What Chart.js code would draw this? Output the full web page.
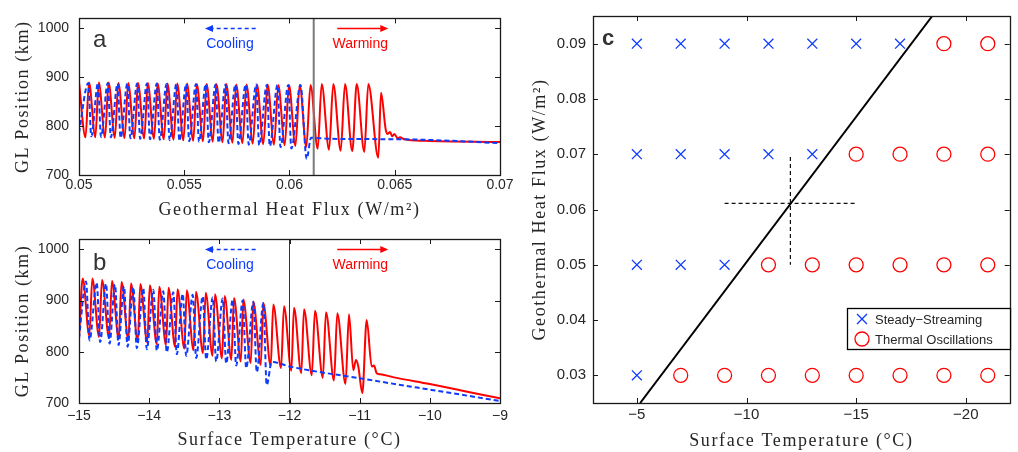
<!DOCTYPE html>
<html><head><meta charset="utf-8">
<script src="https://cdn.jsdelivr.net/npm/chart.js@4.4.1/dist/chart.umd.min.js"></script>
<style>
html,body{margin:0;padding:0;background:#fff;}
body{width:1018px;height:452px;position:relative;overflow:hidden;}
canvas{position:absolute;display:block;}
#ca{left:0;top:0;}
#cb{left:0;top:220px;}
#cc{left:520px;top:0;}
</style></head><body>
<canvas id="ca" width="520" height="222"></canvas>
<canvas id="cb" width="520" height="232"></canvas>
<canvas id="cc" width="498" height="452"></canvas>
<script>
// ---------------- Panel a : GL position vs geothermal heat flux ----------------
const aWarmFlux = [0.05,
 0.050309,0.050475, 0.050774,0.050941, 0.051235,0.051406, 0.051701,0.051872, 0.052166,0.052337,
 0.052632,0.052803, 0.053097,0.053268, 0.053563,0.053734, 0.054029,0.054200, 0.054494,0.054665,
 0.054960,0.055131, 0.055425,0.055596, 0.055891,0.056062, 0.056356,0.056527, 0.056822,0.056998,
 0.057292,0.057468, 0.057767,0.057957, 0.058257,0.058456, 0.058755,0.058960, 0.059264,0.059468,
 0.059772,0.059976, 0.060280,0.060485, 0.060798,0.060998, 0.061340,0.061530, 0.061877,0.062081,
 0.062432,0.062637, 0.062983,0.063192, 0.063554,0.063744, 0.064219,0.064347,
 0.064570,0.064665,0.064774,0.064884,0.064979,0.065140,0.065249,0.065454,0.066437,0.07];
const aWarmGL = [890,
 777,889, 777,889, 776.5,889, 776,888, 775.5,888,
 775,888, 774.5,888, 774,887, 773,887, 772,887,
 771,887, 770,886, 769,886, 768,886, 767,886,
 766,885, 765,885, 764,885, 763,885, 762,884,
 761,884, 759.5,884, 757,884, 753.5,886, 751.5,886,
 749.5,886, 748.5,886, 747,886, 735.5,868,
 793,784,788,779,784,775,777,773,770,767.5];
const aCoolFlux = [0.05,
 0.050442,0.050584, 0.050903,0.051045, 0.051368,0.051511, 0.051834,0.051976, 0.052299,0.052442,
 0.052765,0.052907, 0.053230,0.053373, 0.053696,0.053838, 0.054162,0.054304, 0.054627,0.054770,
 0.055093,0.055235, 0.055558,0.055701, 0.056024,0.056166, 0.056489,0.056632, 0.056960,0.057102,
 0.057430,0.057572, 0.057919,0.058062, 0.058418,0.058561, 0.058922,0.059064, 0.059430,0.059572,
 0.059943,0.060086,
 0.060523,0.060817,0.061021,0.061924,0.065249,0.067625,0.07];
const aCoolGL = [786,
 888,779, 888,778, 888,777, 887,776, 887,775,
 887,774, 887,773, 887,772, 886,771, 886,770,
 886,769, 886,768, 886,767, 885,766, 885,765,
 885,763.5, 885,762, 885,761, 884,759, 884,757,
 884,754,
 884,733,776,774,773,770,765];
const aXTicks = [0.05, 0.055, 0.06, 0.065, 0.07];
const aXTickLabels = ['0.05', '0.055', '0.06', '0.065', '0.07'];
const glTicks = [700, 800, 900, 1000];
const glTickLabels = ['700', '800', '900', '1000'];
const aThresholdFlux = 0.06115;

// ---------------- Panel b : GL position vs surface temperature ----------------
const bWarmTemp = [-15,
 -14.947,-14.853, -14.810,-14.715, -14.672,-14.572, -14.530,-14.434, -14.394,-14.297,
 -14.259,-14.163, -14.126,-14.027, -13.991,-13.891, -13.856,-13.760, -13.724,-13.632,
 -13.596,-13.499, -13.464,-13.368, -13.333,-13.233, -13.194,-13.097, -13.062,-12.962,
 -12.924,-12.829, -12.791,-12.694, -12.658,-12.553, -12.516,-12.410, -12.373,-12.268,
 -12.231,-12.121, -12.078,-11.974, -11.936,-11.832, -11.793,-11.682, -11.637,-11.525,
 -11.480,-11.366, -11.319,-11.202, -11.152,
 -11.091,-11.052,-11.019,-10.962,-10.900,-10.828,-10.796,-10.757,-10.71,-10.472,-10.0,-9.5,-9.0];
const bWarmGL = [826,
 943,831, 943,829, 940,827, 938,825, 936,823,
 933,820, 932,818, 930,815, 927,813, 925,810,
 922,806, 920,803, 917,797, 915,792, 912,787,
 909,784, 905,781, 902,778, 898,774, 895,772,
 892,768, 889,763, 886,758, 883,754, 880,749,
 877,744, 875,737, 873,
 764,784,771,719,862,771,773,758,756,749,737,723,709];
const bCoolTemp = [-15,
 -14.900,-14.850, -14.748,-14.698, -14.615,-14.565, -14.487,-14.437, -14.359,-14.309,
 -14.226,-14.176, -14.084,-14.034, -13.941,-13.891, -13.799,-13.749, -13.656,-13.606,
 -13.522,-13.472, -13.380,-13.330, -13.237,-13.187, -13.094,-13.045, -12.952,-12.902,
 -12.809,-12.760, -12.667,-12.617, -12.516,-12.466,
 -12.373,-12.325,-12.254,-11.993,-10.900,-9.950,-9.0];
const bCoolGL = [826,
 937,822, 935,819, 933,816, 931,813, 928,810,
 926,807, 924,805, 921,802, 918,799, 916,795,
 913,792, 911,788, 908,785, 906,781, 904,777,
 902,773, 900,768, 897,760,
 895,735,780,771,746,725,704];
const bXTicks = [-15, -14, -13, -12, -11, -10, -9];
const bXTickLabels = ['\u221215', '\u221214', '\u221213', '\u221212', '\u221211', '\u221210', '\u22129'];
const bThresholdTemp = -12;

// ---------------- Panel c : regime diagram ----------------
const cTemps = [-5, -7, -9, -11, -13, -15, -17, -19, -21];
const cFluxRows = [0.09, 0.07, 0.05, 0.03];
const cRegime = ['SSSSSSSOO', 'SSSSSOOOO', 'SSSOOOOOO', 'SOOOOOOOO']; // S = steady, O = oscillating
const cBoundaryT = [-5.15, -18.47];
const cBoundaryF = [0.025, 0.095];
const cCrossHT = [-9, -15], cCrossHF = [0.0611, 0.0611];
const cCrossVT = [-12, -12], cCrossVF = [0.0695, 0.05];
const cXTicks = [-5, -10, -15, -20];
const cXTickLabels = ['\u22125', '\u221210', '\u221215', '\u221220'];
const cYTicks = [0.03, 0.04, 0.05, 0.06, 0.07, 0.08, 0.09];
const cYTickLabels = ['0.03', '0.04', '0.05', '0.06', '0.07', '0.08', '0.09'];

// ---------------- styling ----------------
const RED = '#ff0000';
const BLUE = '#0d3bff';
const INK = '#262626';
const SANS = "'Liberation Sans', Arial, Helvetica, sans-serif";
const SERIF = "'Liberation Serif', 'Times New Roman', serif";
const TITLE_SPACING = '1.6px';

const pts = (xs, ys) => xs.map((x, i) => ({x: x, y: ys[i]}));

// MATLAB-like frame: box + inward ticks on all four sides
const matlabFrame = {
  id: 'matlabFrame',
  afterDraw(chart) {
    const {ctx, chartArea: a} = chart;
    const L = 5;
    const xs = chart.scales.x, ys = chart.scales.y;
    ctx.save();
    ctx.strokeStyle = '#1a1a1a';
    ctx.lineWidth = 1;
    ctx.beginPath();
    xs.ticks.forEach(t => {
      const p = Math.round(xs.getPixelForValue(t.value)) + 0.5;
      ctx.moveTo(p, a.bottom); ctx.lineTo(p, a.bottom - L);
      ctx.moveTo(p, a.top); ctx.lineTo(p, a.top + L);
    });
    ys.ticks.forEach(t => {
      const p = Math.round(ys.getPixelForValue(t.value)) + 0.5;
      ctx.moveTo(a.left, p); ctx.lineTo(a.left + L, p);
      ctx.moveTo(a.right, p); ctx.lineTo(a.right - L, p);
    });
    ctx.stroke();
    ctx.lineWidth = 1.3;
    ctx.strokeRect(Math.round(a.left) + 0.5, Math.round(a.top) + 0.5,
                   Math.round(a.right - a.left), Math.round(a.bottom - a.top));
    ctx.restore();
  }
};

// letter-spaced axis titles (approximating the LaTeX look)
const spacedTitles = {
  id: 'spacedTitles',
  beforeDraw(chart) {
    Object.values(chart.scales).forEach(s => {
      if (s._spacedWrapped) return;
      const orig = s.drawTitle;
      s.drawTitle = function () {
        const c = this.ctx; c.save(); c.letterSpacing = TITLE_SPACING;
        orig.apply(this, arguments); c.restore();
      };
      s._spacedWrapped = true;
    });
  }
};

// annotations: threshold line, arrows, direction texts, panel letter
const panelNotes = {
  id: 'panelNotes',
  afterDatasetsDraw(chart, args, o) {
    if (!o || !o.items) return;
    const {ctx, chartArea: a} = chart;
    const xs = chart.scales.x, ys = chart.scales.y;
    ctx.save();
    o.items.forEach(it => {
      if (it.type === 'vline') {
        const p = xs.getPixelForValue(it.x);
        ctx.strokeStyle = it.color; ctx.lineWidth = it.width; ctx.setLineDash([]);
        ctx.beginPath(); ctx.moveTo(p, a.top); ctx.lineTo(p, a.bottom); ctx.stroke();
      } else if (it.type === 'arrow') {
        const x1 = xs.getPixelForValue(it.x1), x2 = xs.getPixelForValue(it.x2);
        const y = Math.round(ys.getPixelForValue(it.y)) + 0.5;
        const dir = Math.sign(x2 - x1);
        ctx.strokeStyle = it.color; ctx.fillStyle = it.color; ctx.lineWidth = 1.5;
        ctx.setLineDash(it.dash || []);
        ctx.beginPath(); ctx.moveTo(x1, y); ctx.lineTo(x2 - dir * 5, y); ctx.stroke();
        ctx.setLineDash([]);
        ctx.beginPath(); ctx.moveTo(x2, y); ctx.lineTo(x2 - dir * 8, y - 3.5); ctx.lineTo(x2 - dir * 8, y + 3.5);
        ctx.closePath(); ctx.fill();
      } else if (it.type === 'text') {
        ctx.fillStyle = it.color; ctx.font = it.font;
        ctx.textAlign = 'center'; ctx.textBaseline = 'alphabetic';
        ctx.fillText(it.text, xs.getPixelForValue(it.x), ys.getPixelForValue(it.y));
      } else if (it.type === 'letter') {
        ctx.fillStyle = it.color; ctx.font = it.font;
        ctx.textAlign = 'left'; ctx.textBaseline = 'alphabetic';
        ctx.fillText(it.text, a.left + it.dx, a.top + it.dy);
      }
    });
    ctx.restore();
  }
};

// boxed legend inside panel c
const boxLegend = {
  id: 'boxLegend',
  afterDraw(chart, args, o) {
    if (!o || !o.box) return;
    const {ctx} = chart;
    const b = o.box;
    const entries = chart.data.datasets.filter(d => d.inLegend);
    ctx.save();
    ctx.fillStyle = '#fff';
    ctx.fillRect(b.left, b.top, b.width, b.height);
    ctx.strokeStyle = '#000'; ctx.lineWidth = 1.3; ctx.setLineDash([]);
    ctx.strokeRect(b.left + 0.5, b.top + 0.5, b.width, b.height);
    ctx.font = o.font; ctx.fillStyle = INK; ctx.textAlign = 'left'; ctx.textBaseline = 'middle';
    entries.forEach((d, i) => {
      const cy = b.top + o.firstRow + i * o.rowGap;
      const cx = b.left + o.markerX;
      ctx.strokeStyle = d.pointBorderColor; ctx.lineWidth = d.pointBorderWidth;
      ctx.beginPath();
      if (d.pointStyle === 'crossRot') {
        const h = d.pointRadius * Math.SQRT1_2;
        ctx.moveTo(cx - h, cy - h); ctx.lineTo(cx + h, cy + h);
        ctx.moveTo(cx + h, cy - h); ctx.lineTo(cx - h, cy + h);
      } else {
        ctx.arc(cx, cy, d.pointRadius, 0, Math.PI * 2);
      }
      ctx.stroke();
      ctx.fillText(d.label, b.left + o.textX, cy + 1);
    });
    ctx.restore();
  }
};

function fixedAxis(values, labels, extra) {
  const ax = {
    type: 'linear',
    afterBuildTicks: s => { s.ticks = values.map(v => ({value: v})); },
    grid: {display: false, drawTicks: false},
    border: {display: false},
    ticks: {
      autoSkip: false, maxRotation: 0, minRotation: 0,
      color: INK, font: {family: SANS, size: 14},
      callback: (v, i) => labels[i]
    },
    title: {display: true, color: INK, font: {family: SERIF, size: 18, lineHeight: 1.2}}
  };
  Object.keys(extra).forEach(k => {
    if (k === 'ticks' || k === 'title') Object.assign(ax[k], extra[k]);
    else ax[k] = extra[k];
  });
  return ax;
}

const common = {
  responsive: false, animation: false, devicePixelRatio: 1, events: [],
};

Chart.defaults.font.family = SANS;

// ---------- chart a ----------
new Chart(document.getElementById('ca'), {
  type: 'scatter',
  data: {datasets: [
    {label: 'Cooling', data: pts(aCoolFlux, aCoolGL), showLine: true, borderColor: BLUE, borderWidth: 2,
     borderDash: [5, 3], pointRadius: 0, cubicInterpolationMode: 'monotone'},
    {label: 'Warming', data: pts(aWarmFlux, aWarmGL), showLine: true, borderColor: RED, borderWidth: 2,
     pointRadius: 0, cubicInterpolationMode: 'monotone'}
  ]},
  options: Object.assign({}, common, {
    layout: {padding: {top: 11, right: 20, bottom: 0, left: 0}},
    plugins: {
      legend: {display: false}, tooltip: {enabled: false},
      panelNotes: {items: [
        {type: 'vline', x: aThresholdFlux, color: '#7a7a7a', width: 2},
        {type: 'arrow', x1: 0.058394, x2: 0.055986, y: 1000, color: BLUE, dash: [4, 3]},
        {type: 'arrow', x1: 0.062271, x2: 0.064694, y: 1000, color: RED},
        {type: 'text', x: 0.057171, y: 960, text: 'Cooling', color: BLUE, font: '14px ' + SANS},
        {type: 'text', x: 0.063364, y: 960, text: 'Warming', color: RED, font: '14px ' + SANS},
        {type: 'letter', dx: 14, dy: 29, text: 'a', color: '#333', font: '24px ' + SANS}
      ]}
    },
    scales: {
      x: fixedAxis(aXTicks, aXTickLabels, {min: 0.05, max: 0.07,
        afterFit: s => { s.height = 47; },
        ticks: {padding: 2},
        title: {text: 'Geothermal Heat Flux (W/m\u00b2)', padding: {top: 0, bottom: 1}}}),
      y: fixedAxis(glTicks, glTickLabels, {min: 700, max: 1020,
        afterFit: s => { s.width = 79; },
        ticks: {padding: 10},
        title: {text: 'GL Position (km)', padding: {top: 12, bottom: 0}}})
    }
  }),
  plugins: [spacedTitles, panelNotes, matlabFrame]
});

// ---------- chart b ----------
new Chart(document.getElementById('cb'), {
  type: 'scatter',
  data: {datasets: [
    {label: 'Cooling', data: pts(bCoolTemp, bCoolGL), showLine: true, borderColor: BLUE, borderWidth: 2,
     borderDash: [5, 3], pointRadius: 0, cubicInterpolationMode: 'monotone'},
    {label: 'Warming', data: pts(bWarmTemp, bWarmGL), showLine: true, borderColor: RED, borderWidth: 2,
     pointRadius: 0, cubicInterpolationMode: 'monotone'}
  ]},
  options: Object.assign({}, common, {
    layout: {padding: {top: 19, right: 20, bottom: 0, left: 0}},
    plugins: {
      legend: {display: false}, tooltip: {enabled: false},
      panelNotes: {items: [
        {type: 'vline', x: bThresholdTemp, color: '#333', width: 1},
        {type: 'arrow', x1: -12.482, x2: -13.204, y: 1000, color: BLUE, dash: [4, 3]},
        {type: 'arrow', x1: -11.319, x2: -10.592, y: 1000, color: RED},
        {type: 'text', x: -12.848, y: 961, text: 'Cooling', color: BLUE, font: '14px ' + SANS},
        {type: 'text', x: -10.99, y: 961, text: 'Warming', color: RED, font: '14px ' + SANS},
        {type: 'letter', dx: 14, dy: 31, text: 'b', color: '#333', font: '24px ' + SANS}
      ]}
    },
    scales: {
      x: fixedAxis(bXTicks, bXTickLabels, {min: -15, max: -9,
        afterFit: s => { s.height = 49; },
        ticks: {padding: 5},
        title: {text: 'Surface Temperature (\u00b0C)', padding: {top: 0, bottom: 1}}}),
      y: fixedAxis(glTicks, glTickLabels, {min: 700, max: 1020,
        afterFit: s => { s.width = 79; },
        ticks: {padding: 10},
        title: {text: 'GL Position (km)', padding: {top: 12, bottom: 0}}})
    }
  }),
  plugins: [spacedTitles, panelNotes, matlabFrame]
});

// ---------- chart c ----------
const steadyPts = [], oscPts = [];
cFluxRows.forEach((f, r) => cTemps.forEach((t, c) => {
  (cRegime[r][c] === 'S' ? steadyPts : oscPts).push({x: t, y: f});
}));

new Chart(document.getElementById('cc'), {
  type: 'scatter',
  data: {datasets: [
    {label: 'Steady\u2212Streaming', inLegend: true, data: steadyPts, pointStyle: 'crossRot', pointRadius: 7,
     pointBorderColor: BLUE, pointBackgroundColor: 'rgba(0,0,0,0)', pointBorderWidth: 1.3, borderColor: BLUE},
    {label: 'Thermal Oscillations', inLegend: true, data: oscPts, pointStyle: 'circle', pointRadius: 7,
     pointBorderColor: RED, pointBackgroundColor: 'rgba(0,0,0,0)', pointBorderWidth: 1.3, borderColor: RED},
    {label: 'Boundary', data: pts(cBoundaryT, cBoundaryF), showLine: true, borderColor: '#000', borderWidth: 2,
     pointRadius: 0},
    {label: 'Threshold flux', data: pts(cCrossHT, cCrossHF), showLine: true, borderColor: '#111', borderWidth: 1.2,
     borderDash: [4, 3], pointRadius: 0},
    {label: 'Threshold temperature', data: pts(cCrossVT, cCrossVF), showLine: true, borderColor: '#111', borderWidth: 1.2,
     borderDash: [4, 3], pointRadius: 0}
  ]},
  options: Object.assign({}, common, {
    layout: {padding: {top: 11, right: 5, bottom: 0, left: 0}},
    plugins: {
      legend: {display: false}, tooltip: {enabled: false},
      panelNotes: {items: [
        {type: 'letter', dx: 9, dy: 29, text: 'c', color: '#333', font: 'bold 22px ' + SANS}
      ]},
      boxLegend: {box: {left: 327, top: 308, width: 163, height: 41}, font: '13px ' + SANS,
                  firstRow: 11, rowGap: 20, markerX: 15, textX: 28}
    },
    scales: {
      x: fixedAxis(cXTicks, cXTickLabels, {min: -22, max: -3, reverse: true,
        afterFit: s => { s.height = 49; },
        ticks: {padding: 3, font: {family: SANS, size: 15}},
        title: {text: 'Surface Temperature (\u00b0C)', padding: {top: 0, bottom: 0}}}),
      y: fixedAxis(cYTicks, cYTickLabels, {min: 0.025, max: 0.095,
        afterFit: s => { s.width = 73; },
        ticks: {padding: 7, font: {family: SANS, size: 15}},
        title: {text: 'Geothermal Heat Flux (W/m\u00b2)', padding: {top: 9, bottom: 0}}})
    }
  }),
  plugins: [spacedTitles, panelNotes, matlabFrame, boxLegend]
});
</script>
</body></html>
